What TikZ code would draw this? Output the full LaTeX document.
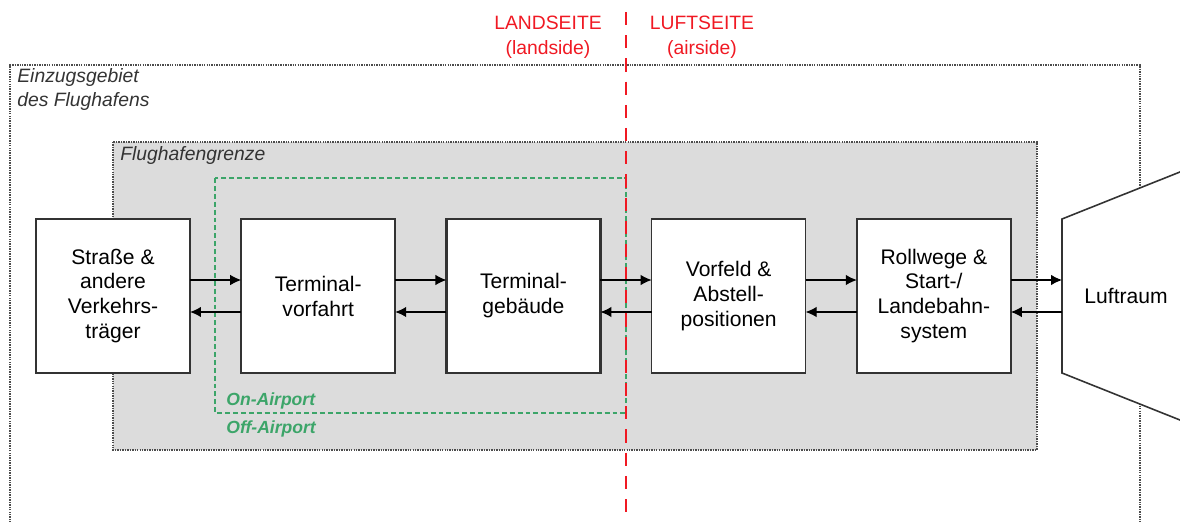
\documentclass[tikz,border=0pt]{standalone}
\usepackage{fontspec}
\setmainfont{Liberation Sans}
\usetikzlibrary{arrows.meta,positioning}

\definecolor{zonegray}{RGB}{220,220,220}
\definecolor{ongreen}{RGB}{60,165,105}
\definecolor{sidered}{RGB}{240,25,35}

\begin{document}
\begin{tikzpicture}[x=0.02cm,y=-0.02cm,node distance=1.025cm,
  box/.style={draw=black!80,line width=0.9pt,fill=white,minimum width=3.08cm,minimum height=3.08cm,align=center,inner sep=0pt,outer sep=0pt,font=\fontsize{12}{14.2}\selectfont},
  flow/.style={-{Latex[length=2.2mm,width=2.1mm]},line width=0.7pt},
  zone/.style={draw=black!70,line width=0.6pt,dash pattern=on 0.8pt off 0.6pt},
  zonelabel/.style={font=\fontsize{11}{14.2}\selectfont\itshape,align=left,inner sep=0pt,anchor=west,text=black!80},
  airport/.style={font=\fontsize{10}{12}\selectfont\bfseries\itshape,inner sep=0pt,anchor=west,text=ongreen},
  side/.style={font=\fontsize{11}{14.2}\selectfont,align=center,text=sidered}]
\useasboundingbox (0,0) rectangle (1180,521);
% zones
\draw[zone] (10,540) -- (10,65) -- (1140,65) -- (1140,540);
\draw[zone,fill=zonegray] (113,142) rectangle (1037,450);
\draw[ongreen,line width=0.7pt,dash pattern=on 2.8pt off 1.7pt] (215,178) rectangle (626,413);
\draw[sidered,line width=1.2pt,dash pattern=on 7.5pt off 5.7pt] (626,12) -- (626,540);
\node[zonelabel] (catch) at (17,89.5) {Einzugsgebiet\\des Flughafens};
\node[zonelabel] (border) at (120,155) {Flughafengrenze};
\node[airport] (on) at (226,401) {On-Airport};
\node[airport] (off) at (226,429) {Off-Airport};
\node[side] (land) at (548,37) {LANDSEITE\\(landside)};
\node[side] (air) at (702,37) {LUFTSEITE\\(airside)};
% boxes
\node[box] (road) at (113,296) {Straße \&\\andere\\Verkehrs-\\träger};
\node[box,right=of road] (curb) {Terminal-\\vorfahrt};
\node[box,right=of curb,line width=1.3pt] (term) {Terminal-\\gebäude};
\node[box,right=of term] (apron) {Vorfeld \&\\Abstell-\\positionen};
\node[box,right=of apron] (rwy) {Rollwege \&\\Start-/\\Landebahn-\\system};
\draw[draw=black!80,line width=0.9pt,fill=white] (1200,164) -- (1062,219) -- (1062,373) -- (1200,428);
\node[inner sep=0pt,outer sep=0pt,minimum width=2.56cm,minimum height=3.08cm,font=\fontsize{12}{14.2}\selectfont,right=of rwy] (luft) {Luftraum};
% flows
\foreach \a/\b in {road/curb,curb/term,term/apron,apron/rwy,rwy/luft}{
  \draw[flow] ([yshift=0.32cm]\a.east) -- ([yshift=0.32cm]\b.west);
  \draw[flow] ([yshift=-0.32cm]\b.west) -- ([yshift=-0.32cm]\a.east);
}
\end{tikzpicture}
\end{document}
